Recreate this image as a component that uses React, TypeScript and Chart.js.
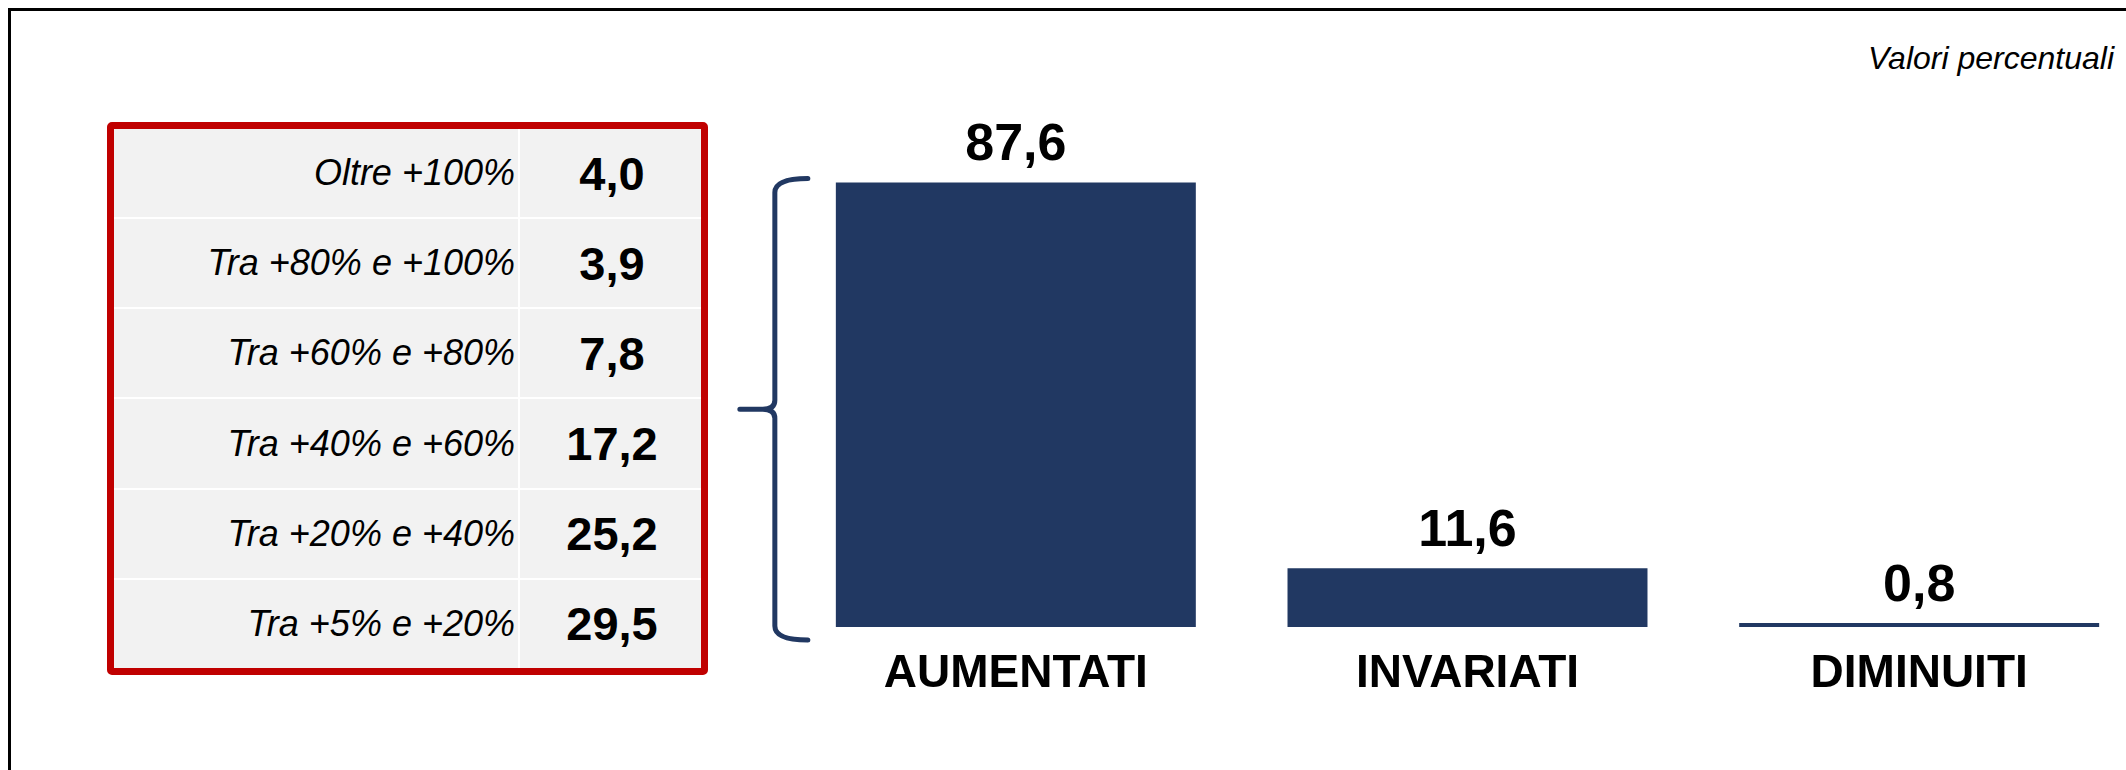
import React, { useEffect, useRef } from "react";
import { Chart, registerables } from "chart.js";

Chart.register(...registerables);

// ---- data ----
const categories = ["AUMENTATI", "INVARIATI", "DIMINUITI"];
const values = [87.6, 11.6, 0.8];
const rangeLabels = [
  "Oltre +100%",
  "Tra +80% e +100%",
  "Tra +60% e +80%",
  "Tra +40% e +60%",
  "Tra +20% e +40%",
  "Tra +5% e +20%",
];
const rangeValues = [4.0, 3.9, 7.8, 17.2, 25.2, 29.5];
const noteText = "Valori percentuali";

// ---- style ----
const FONT = "'Liberation Sans', Arial, sans-serif";
const BAR = "#213862";
const RED = "#C00000";
const CELL = "#F2F2F2";

const fmt = (v: number) => v.toFixed(1).replace(".", ",");

const labelsAndBrace = {
  id: "labelsAndBrace",
  afterDatasetsDraw(chart: any) {
    const ctx = chart.ctx as CanvasRenderingContext2D;
    const meta = chart.getDatasetMeta(0);
    ctx.save();
    ctx.fillStyle = "#000";
    ctx.font = `bold 52px ${FONT}`;
    ctx.textAlign = "center";
    ctx.textBaseline = "alphabetic";
    meta.data.forEach((bar: any, i: number) => {
      ctx.fillText(fmt(values[i]), bar.x, bar.y - 22);
    });

    // curly brace to the left of the first bar
    const b: any = meta.data[0];
    const left = b.x - b.width / 2;
    const top = b.y - 4;
    const bottom = b.base + 13;
    const mid = (top + bottom) / 2;
    const lx = left - 61;
    const hx = left - 28;
    const tx = left - 96;
    ctx.strokeStyle = BAR;
    ctx.lineWidth = 5;
    ctx.lineCap = "round";
    ctx.lineJoin = "round";
    ctx.beginPath();
    ctx.moveTo(hx, top);
    ctx.quadraticCurveTo(lx, top, lx, top + 14);
    ctx.lineTo(lx, mid - 9);
    ctx.quadraticCurveTo(lx, mid, lx - 12, mid);
    ctx.lineTo(tx, mid);
    ctx.moveTo(lx - 12, mid);
    ctx.quadraticCurveTo(lx, mid, lx, mid + 9);
    ctx.lineTo(lx, bottom - 14);
    ctx.quadraticCurveTo(lx, bottom, hx, bottom);
    ctx.stroke();
    ctx.restore();
  },
};

export default function App() {
  const canvasRef = useRef<HTMLCanvasElement | null>(null);

  useEffect(() => {
    if (!canvasRef.current) return;
    const chart = new Chart(canvasRef.current, {
      type: "bar",
      data: {
        labels: categories,
        datasets: [
          {
            data: values,
            backgroundColor: BAR,
            borderWidth: 0,
            barPercentage: 0.797,
            categoryPercentage: 1,
          },
        ],
      },
      options: {
        animation: false,
        responsive: false,
        devicePixelRatio: 1,
        layout: { padding: { left: 790, right: 55, top: 119.5, bottom: 47.8 } },
        plugins: {
          legend: { display: false },
          tooltip: { enabled: false },
          title: { display: false },
        },
        scales: {
          x: {
            grid: { display: false, drawTicks: false },
            border: { display: false },
            ticks: {
              color: "#000",
              font: { family: FONT, size: 46, weight: "bold" },
              padding: 20,
              maxRotation: 0,
              autoSkip: false,
            },
          },
          y: { display: false, min: 0, max: 100 },
        },
      },
      plugins: [labelsAndBrace],
    } as any);
    return () => chart.destroy();
  }, []);

  return (
    <div
      style={{
        position: "fixed",
        left: 0,
        top: 0,
        width: 2126,
        height: 770,
        overflow: "hidden",
        background: "#fff",
        fontFamily: FONT,
      }}
    >
      <div
        style={{
          position: "absolute",
          left: 8,
          top: 8,
          width: 2400,
          height: 1000,
          border: "3px solid #000",
        }}
      />
      <div
        style={{
          position: "absolute",
          right: 12,
          top: 42,
          fontSize: 32,
          lineHeight: "32px",
          fontStyle: "italic",
          color: "#000",
          whiteSpace: "nowrap",
        }}
      >
        {noteText}
      </div>
      <div
        style={{
          position: "absolute",
          left: 107,
          top: 122,
          width: 601,
          height: 553,
          boxSizing: "border-box",
          border: `7px solid ${RED}`,
          borderRadius: 5,
          background: "#fff",
          display: "grid",
          gridTemplateColumns: "404px 181px",
          gridTemplateRows: "repeat(6, 1fr)",
          columnGap: 2,
          rowGap: 2,
        }}
      >
        {rangeLabels.map((l, i) => (
          <React.Fragment key={i}>
            <div
              style={{
                background: CELL,
                display: "flex",
                alignItems: "center",
                justifyContent: "flex-end",
                paddingRight: 3,
                fontStyle: "italic",
                fontSize: 36,
                color: "#000",
                whiteSpace: "nowrap",
              }}
            >
              {l}
            </div>
            <div
              style={{
                background: CELL,
                display: "flex",
                alignItems: "center",
                justifyContent: "center",
                paddingLeft: 3,
                fontWeight: "bold",
                fontSize: 47,
                color: "#000",
              }}
            >
              {fmt(rangeValues[i])}
            </div>
          </React.Fragment>
        ))}
      </div>
      <canvas
        ref={canvasRef}
        width={2200}
        height={770}
        style={{ position: "absolute", left: 0, top: 0, width: 2200, height: 770 }}
      />
    </div>
  );
}
